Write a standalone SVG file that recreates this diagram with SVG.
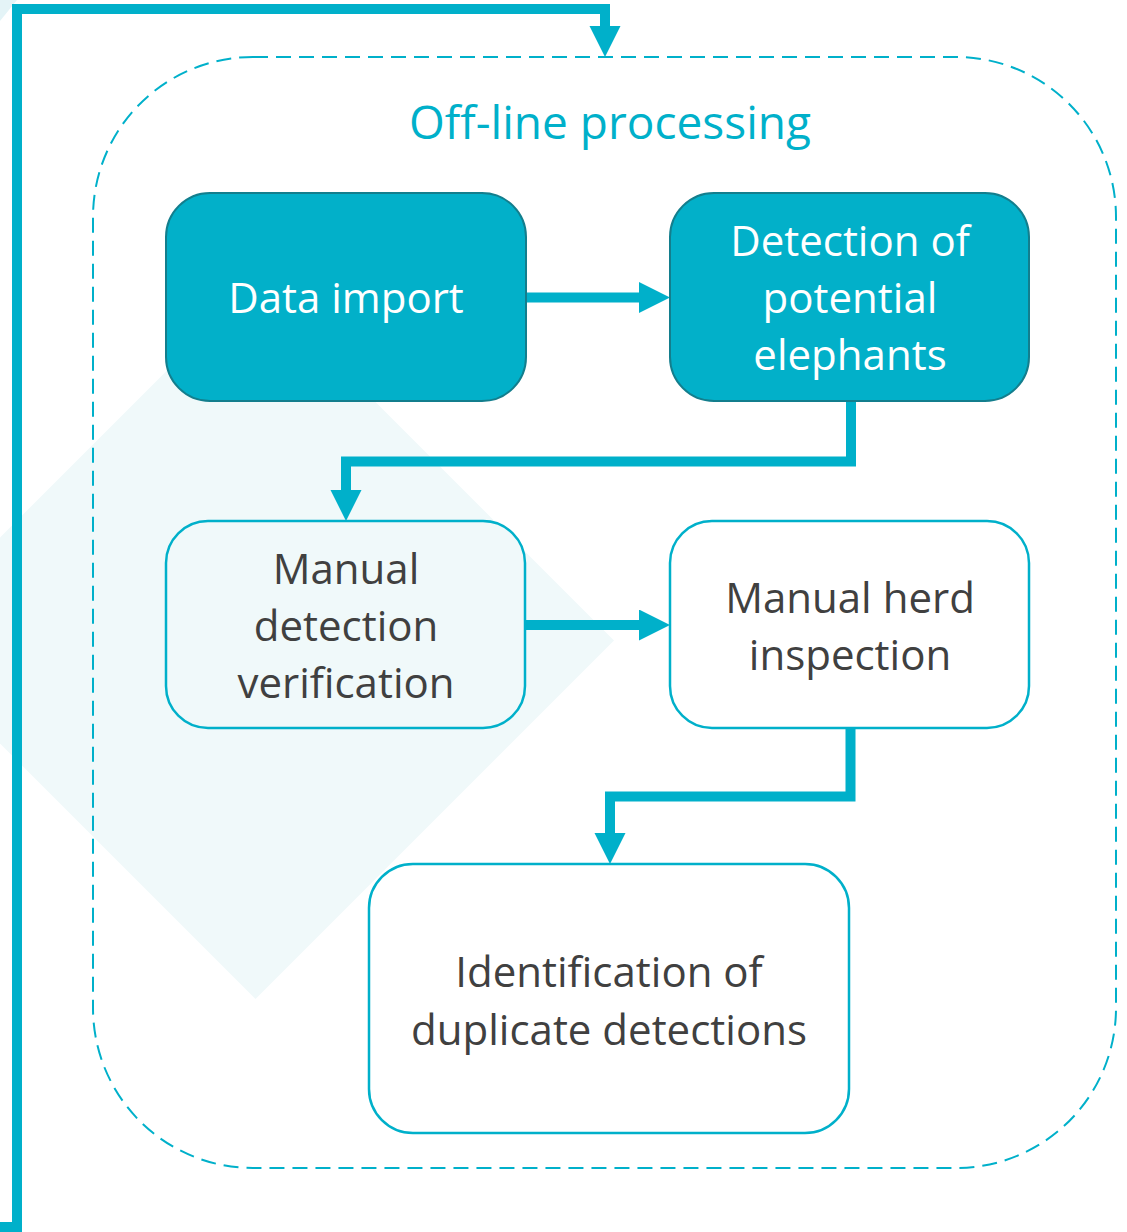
<svg xmlns="http://www.w3.org/2000/svg" width="1127" height="1232" viewBox="0 0 1127 1232">
  <style>
    .label { font-family: "Open Sans", "Noto Sans", "Liberation Sans", sans-serif; font-size: 42px; text-anchor: middle; }
    .on-dark { fill: #FFFFFF; }
    .on-light { fill: #404040; }
    .title { font-family: "Open Sans", "Noto Sans", "Liberation Sans", sans-serif; font-size: 46px; text-anchor: middle; fill: #00B0CA; }
    .box-dark { fill: #02B0C9; stroke: #137E8D; stroke-width: 2; }
    .box-light { fill: #FFFFFF; stroke: #00B0CA; stroke-width: 2.5; }
    .box-tint { fill: #F0F9FA; stroke: #00B0CA; stroke-width: 2.5; }
    .flow { fill: none; stroke: #00B0CA; stroke-width: 10; stroke-linejoin: miter; }
  </style>
  <defs>
    <marker id="arrow" markerUnits="userSpaceOnUse" markerWidth="32" markerHeight="32" refX="0" refY="15.5" orient="auto">
      <path d="M0,0 L31,15.5 L0,31 Z" fill="#00B0CA"/>
    </marker>
  </defs>

  <rect width="1127" height="1232" fill="#FFFFFF"/>

  <!-- background decoration -->
  <g id="backdrop">
    <polygon points="255.5,282 614,640.5 255.5,999 -103,640.5" fill="#F0F9FA"/>
    <polygon points="0,0 17,0 0,21" fill="#E4F4F7"/>
  </g>

  <!-- dashed processing container -->
  <g id="offline-processing">
    <rect x="93" y="57" width="1023" height="1111" rx="160" ry="160" fill="none" stroke="#00B0CA" stroke-width="2" stroke-dasharray="15 8"/>
    <text class="title" x="610" y="139">Off-line processing</text>
  </g>

  <!-- connectors -->
  <g id="connectors">
    <path class="flow" d="M-10,1227 L17,1227 L17,9 L605,9 L605,26" marker-end="url(#arrow)"/>
    <path class="flow" d="M526,297.5 L639,297.5" marker-end="url(#arrow)"/>
    <path class="flow" d="M851,400 L851,461.5 L346,461.5 L346,490" marker-end="url(#arrow)"/>
    <path class="flow" d="M526,625 L639,625" marker-end="url(#arrow)"/>
    <path class="flow" d="M850.5,729 L850.5,796.5 L610,796.5 L610,833" marker-end="url(#arrow)"/>
  </g>

  <g id="node-data-import">
    <rect class="box-dark" x="166" y="193" width="360" height="208" rx="44" ry="44"/>
    <text class="label on-dark" x="346" y="313">Data import</text>
  </g>

  <g id="node-detection">
    <rect class="box-dark" x="670" y="193" width="359" height="208" rx="44" ry="44"/>
    <text class="label on-dark" x="850" y="256">Detection of</text>
    <text class="label on-dark" x="850" y="313">potential</text>
    <text class="label on-dark" x="850" y="370">elephants</text>
  </g>

  <g id="node-manual-verification">
    <rect class="box-tint" x="166" y="521" width="359" height="207" rx="42" ry="42"/>
    <text class="label on-light" x="346" y="584">Manual</text>
    <text class="label on-light" x="346" y="641">detection</text>
    <text class="label on-light" x="346" y="698">verification</text>
  </g>

  <g id="node-herd-inspection">
    <rect class="box-light" x="670" y="521" width="359" height="207" rx="42" ry="42"/>
    <text class="label on-light" x="850" y="613">Manual herd</text>
    <text class="label on-light" x="850" y="670">inspection</text>
  </g>

  <g id="node-duplicates">
    <rect class="box-light" x="369" y="864" width="480" height="269" rx="44" ry="44"/>
    <text class="label on-light" x="609" y="987">Identification of</text>
    <text class="label on-light" x="609" y="1045">duplicate detections</text>
  </g>
</svg>
